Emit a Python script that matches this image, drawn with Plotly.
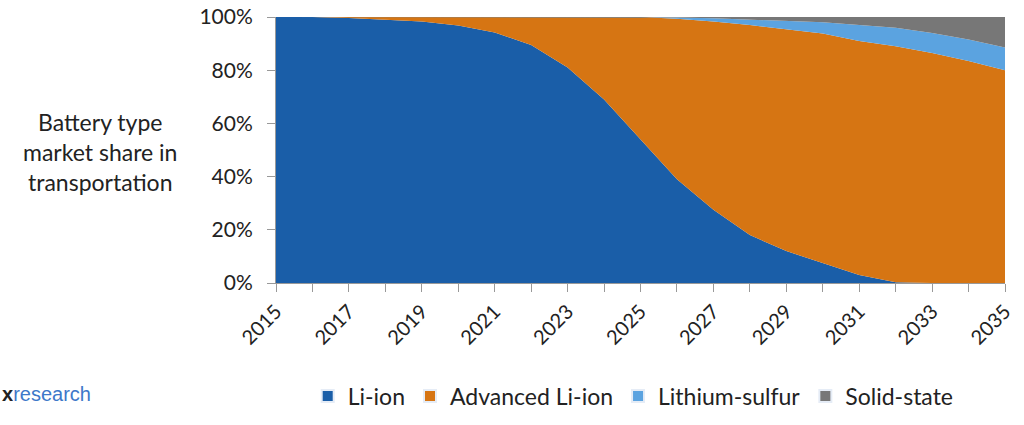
import plotly.graph_objects as go

years = list(range(2015, 2036))
li_ion = [100, 100, 99.6, 99, 98.3, 96.8, 94.2, 89.5, 81, 69, 54, 39, 27.5, 18, 12, 7.5, 3, 0.3, 0, 0, 0]
adv_li_ion = [0, 0, 0.4, 1, 1.7, 3.2, 5.8, 10.5, 19, 31, 46, 60.3, 70.8, 79, 83.5, 86.3, 88, 88.7, 86.5, 83.5, 80]
lithium_sulfur = [0, 0, 0, 0, 0, 0, 0, 0, 0, 0, 0, 0.5, 1.2, 2, 3, 4.2, 6, 7, 7.5, 8, 8.5]
solid_state = [0, 0, 0, 0, 0, 0, 0, 0, 0, 0, 0, 0.2, 0.5, 1, 1.5, 2, 3, 4, 6, 8.5, 11.5]
tick_labels = [str(y) if (y - 2015) % 2 == 0 else "" for y in years]
y_ticks = [0, 20, 40, 60, 80, 100]
y_tick_labels = ["0%", "20%", "40%", "60%", "80%", "100%"]

series = [
    ("Li-ion", li_ion, "#1a5ea8"),
    ("Advanced Li-ion", adv_li_ion, "#d67513"),
    ("Lithium-sulfur", lithium_sulfur, "#5ba3e0"),
    ("Solid-state", solid_state, "#777777"),
]

fig = go.Figure()
for name, vals, col in series:
    fig.add_trace(go.Scatter(
        x=years, y=vals, name=name, mode="lines", stackgroup="one",
        line=dict(width=0, color=col), fillcolor=col, showlegend=False,
    ))
# legend entries with square swatches
for name, vals, col in series:
    fig.add_trace(go.Bar(x=[None], y=[None], name=name, marker=dict(color=col),
                         showlegend=True))

font_family = "Lato, 'Open Sans', sans-serif"
fig.update_layout(
    width=1024, height=425,
    margin=dict(l=276, r=19, t=17, b=142, autoexpand=False),
    paper_bgcolor="white", plot_bgcolor="white",
    font=dict(family=font_family, size=21, color="#222222"),
    showlegend=True,
    legend=dict(orientation="h", x=0.49, xanchor="center", y=(283 - 396) / 266,
                yanchor="middle", font=dict(size=23), traceorder="normal",
                itemsizing="constant"),
    xaxis=dict(range=[2015, 2035], tickvals=years, ticktext=tick_labels, tickangle=-45,
               ticks="outside", ticklen=8, tickcolor="#999999", showline=True,
               linecolor="#999999", linewidth=1, showgrid=False, zeroline=False,
               tickfont=dict(size=20), automargin=False),
    yaxis=dict(range=[0, 100], tickvals=y_ticks, ticktext=y_tick_labels, ticks="outside",
               ticklen=8, tickcolor="#999999", showline=True, linecolor="#999999",
               linewidth=1, showgrid=False, zeroline=False, tickfont=dict(size=21),
               automargin=False, ticklabelstandoff=10),
)

fig.add_annotation(
    text="Battery type<br>market share in<br>transportation",
    xref="paper", yref="paper", x=(100 - 276) / 729, y=(283 - 152) / 266,
    xanchor="center", yanchor="middle", showarrow=False, align="center",
    font=dict(size=23, color="#222222"),
)
fig.add_annotation(
    text="<b>x</b><span style='color:#3d78c9'>research</span>",
    xref="paper", yref="paper", x=(0 - 276) / 729, y=(283 - 394) / 266,
    xanchor="left", yanchor="middle", showarrow=False,
    font=dict(family="Liberation Sans, Arial, sans-serif", size=20, color="#222222"),
)

fig.write_html("out.html", config={"displayModeBar": False},
               post_script="document.body.style.margin='0';")
